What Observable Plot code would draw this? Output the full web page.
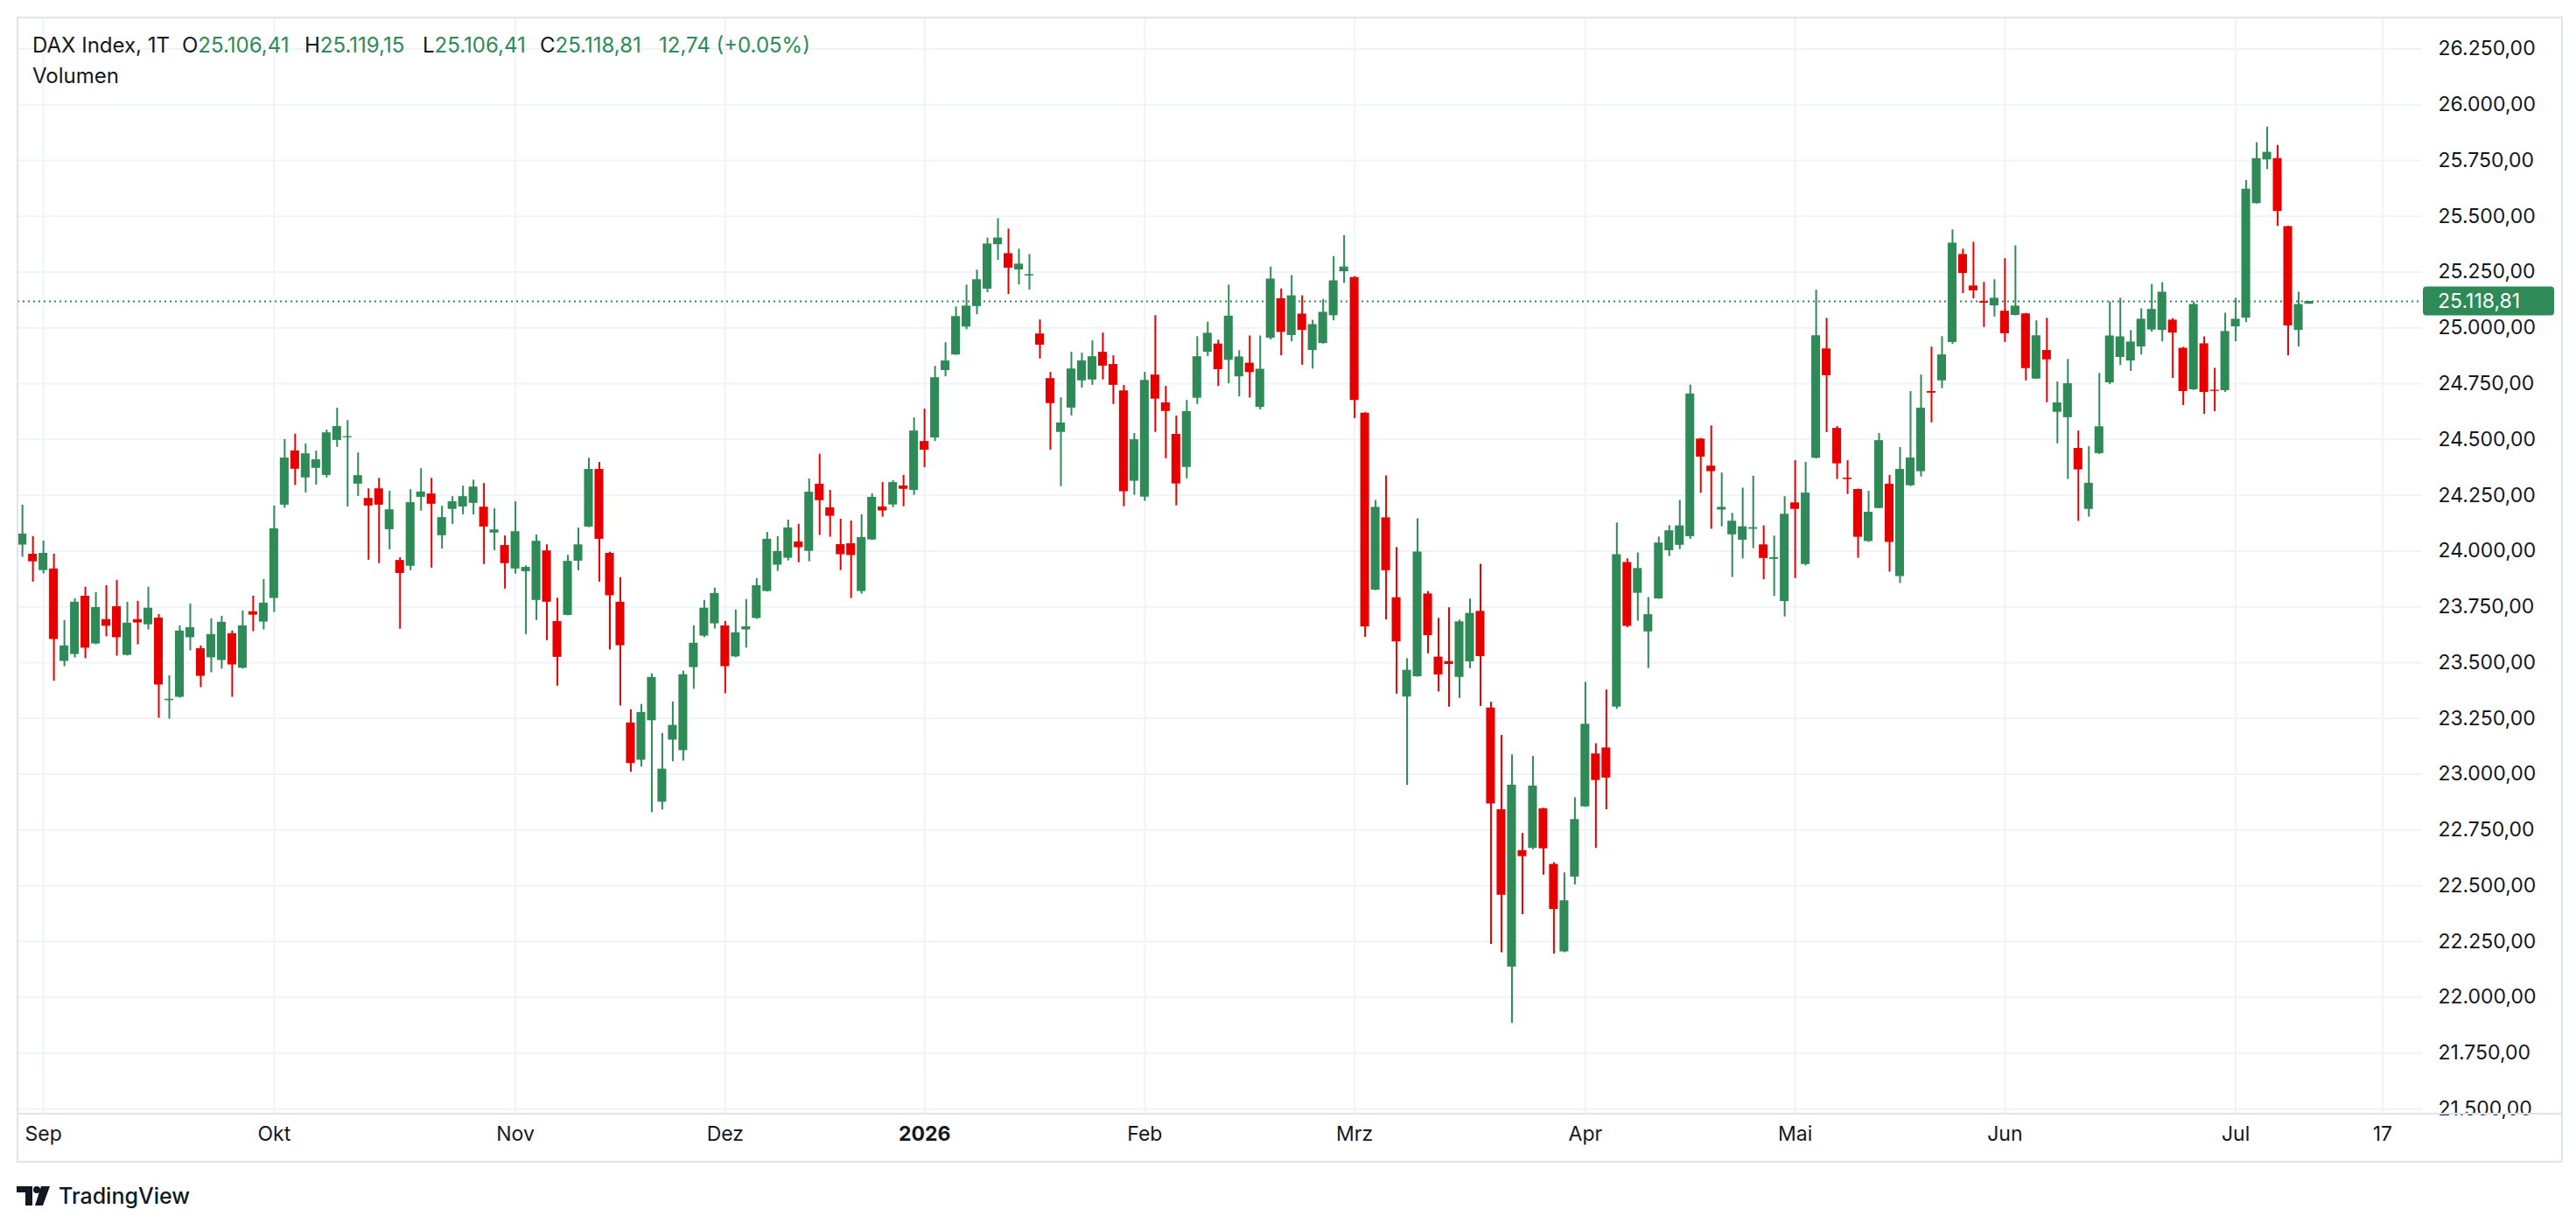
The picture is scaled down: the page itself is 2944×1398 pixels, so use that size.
<!DOCTYPE html>
<html><head><meta charset="utf-8">
<script src="https://cdn.jsdelivr.net/npm/d3@7"></script>
<script src="https://cdn.jsdelivr.net/npm/@observablehq/plot@0.6"></script>
<style>
html,body{margin:0;padding:0;background:#fff;}
#chart{position:relative;width:2944px;height:1398px;overflow:hidden;}
svg text{font-family:Inter,"Noto Sans",sans-serif;}
</style></head><body><div id="chart"></div>
<script>
// DAX Index, daily candles, 28 Aug 2025 (index 0) to 10 Jul 2026 (index 218), trading-day index on x
const open = [24027,23986,23913,23920,23506,23537,23798,23584,23693,23751,
23533,23693,23670,23700,23330,23345,23612,23563,23522,23510,
23630,23475,23728,23682,23788,24206,24449,24328,24371,24339,
24496,24508,24300,24236,24279,24096,23958,23932,24241,24256,
24069,24187,24198,24214,24197,24081,24025,23920,23908,23779,
24001,23684,23712,23955,24108,24366,23990,23771,23230,23063,
23240,22875,23153,23106,23478,23619,23674,23665,23526,23647,
23698,23819,23937,23968,24041,23999,24300,24194,24029,24033,
23819,24050,24198,24207,24292,24272,24491,24507,24809,24879,
25004,25096,25174,25373,25333,25260,25233,24973,24773,24532,
24641,24763,24767,24891,24836,24718,24313,24242,24789,24664,
24523,24375,24685,24891,24928,24855,24781,24842,24644,24954,
25131,24966,25062,24899,24930,25055,25252,25226,24618,23825,
24149,23791,23346,23437,23808,23525,23505,23434,23504,23730,
23297,22841,22136,22658,22668,22845,22596,22204,22539,22854,
23091,23118,23301,23949,23811,23638,23786,24002,24026,24065,
24502,24381,24184,24073,24049,24098,24028,23963,23774,24216,
23940,24416,24906,24550,24327,24276,24043,24191,24300,23886,
24293,24356,24715,24763,24935,25329,25188,25118,25099,25075,
25056,25063,24771,24899,24622,24598,24460,24187,24437,24754,
24868,24852,24915,24991,24989,25035,24909,24723,24929,24721,
24719,25005,25044,25557,25753,25759,25454,24989,25106.41];
const high = [24206,24065,24045,23986,23689,23787,23838,23814,23845,23869,
23771,23775,23838,23716,23442,23665,23763,23575,23697,23708,
23642,23732,23798,23873,24202,24500,24524,24480,24448,24542,
24640,24585,24440,24279,24326,24268,23970,24275,24369,24326,
24201,24244,24291,24318,24303,24189,24068,24221,23934,24072,
24028,23789,23981,24103,24416,24397,23995,23881,23289,23313,
23450,23183,23324,23462,23665,23779,23834,23685,23736,23783,
23877,24084,24065,24139,24120,24323,24434,24272,24143,24135,
24163,24257,24307,24315,24339,24597,24636,24828,24934,25094,
25192,25259,25403,25490,25443,25353,25329,25036,24801,24687,
24891,24887,24942,24977,24875,24742,24527,24801,25055,24738,
24605,24675,24961,25026,24945,25192,24898,24964,24964,25273,
25175,25234,25144,25034,25128,25320,25414,25230,24620,24227,
24337,24016,23518,24145,23819,23699,23746,23691,23785,23941,
23322,23174,23087,22735,23080,22848,22604,22558,22895,23412,
23137,23378,24126,23965,23992,23792,24063,24114,24227,24744,
24505,24561,24350,24169,24282,24336,24113,24067,24244,24405,
24398,25169,25043,24558,24405,24278,24268,24527,24339,24464,
24715,24789,24914,24961,25439,25353,25384,25204,25216,25310,
25368,25065,25032,25043,24758,24859,24538,24468,24796,25117,
25133,24988,25086,25195,25203,25042,24913,25117,24960,24819,
25066,25133,25661,25830,25900,25818,25456,25160,25119.15];
const low = [23972,23861,23898,23417,23482,23521,23518,23580,23616,23529,
23530,23580,23647,23251,23247,23341,23553,23388,23455,23471,
23345,23472,23639,23647,23725,24192,24294,24261,24296,24328,
24465,24198,24245,23959,23944,24006,23650,23912,24179,23924,
24010,24120,24163,24163,23940,24002,23830,23897,23626,23689,
23599,23395,23710,23912,24105,23861,23557,23306,23009,23032,
22828,22840,23056,23059,23381,23612,23651,23361,23522,23565,
23694,23817,23909,23956,23948,23952,24070,24062,23913,23788,
23807,24048,24152,24195,24199,24250,24374,24491,24781,24877,
24992,25059,25158,25303,25150,25193,25170,24861,24452,24289,
24606,24731,24743,24767,24657,24199,24250,24223,24532,24414,
24203,24324,24657,24872,24738,24750,24691,24686,24633,24946,
24875,24938,24833,24816,24928,25032,25200,24594,23614,23823,
23692,23359,22950,23435,23540,23369,23301,23340,23473,23304,
22238,22200,21884,22371,22662,22548,22194,22200,22504,22852,
22668,22841,23291,23657,23686,23474,23784,23976,24007,24053,
24259,24098,24109,23882,23965,24011,23872,23797,23705,23877,
23934,24413,24531,24321,24254,23968,24039,24190,23906,23855,
24289,24332,24575,24728,24927,25154,25131,25002,25049,24935,
25054,24763,24769,24665,24481,24321,24133,24152,24433,24746,
24832,24805,24879,24981,24938,24774,24652,24720,24613,24625,
24711,24938,25024,25555,25710,25455,24875,24915,25106.41];
const close = [24076,23952,23990,23604,23575,23771,23565,23747,23663,23612,
23677,23678,23744,23400,23336,23642,23657,23439,23626,23681,
23490,23665,23713,23767,24100,24417,24367,24436,24409,24530,
24558,24513,24338,24202,24206,24185,23900,24217,24265,24210,
24150,24221,24244,24287,24108,24095,23944,24087,23927,24044,
23771,23524,23954,24028,24366,24053,23800,23576,23048,23277,
23434,23023,23219,23446,23587,23744,23810,23482,23634,23661,
23845,24053,23998,24104,24015,24264,24226,24156,23984,23980,
24061,24241,24180,24307,24277,24538,24452,24777,24852,25051,
25098,25216,25376,25403,25268,25286,25239,24923,24661,24574,
24816,24852,24871,24829,24743,24266,24499,24765,24681,24626,
24301,24625,24871,24976,24813,25053,24870,24800,24815,25219,
24980,25144,24989,25015,25070,25211,25273,24675,23660,24196,
23912,23593,23466,23996,23621,23445,23492,23683,23721,23527,
22867,22458,22951,22631,22947,22666,22394,22433,22797,23224,
22972,22983,23984,23663,23922,23715,24036,24091,24113,24704,
24421,24356,24196,24134,24109,24105,23967,23971,24165,24187,
24260,24965,24786,24391,24321,24062,24174,24495,24039,24366,
24417,24640,24708,24879,25380,25244,25166,25111,25133,24974,
25098,24818,24965,24857,24664,24750,24364,24304,24557,24964,
24960,24937,25039,25083,25160,24977,24715,25105,24711,24716,
24984,25039,25622,25759,25787,25522,25009,25105,25118.81];

// time axis: label text and the trading-day index where it sits
const monthLabels = ["Sep","Okt","Nov","Dez","2026","Feb","Mrz","Apr","Mai","Jun","Jul","17"];
const monthIndex  = [2,24,47,67,86,107,127,149,169,189,211,225];
const monthBold   = [false,false,false,false,true,false,false,false,false,false,false,false];
// price axis ticks
const yTicks = [21500,21750,22000,22250,22500,22750,23000,23250,23500,23750,24000,
24250,24500,24750,25000,25250,25500,25750,26000,26250];
// header legend
const legendTitle = "DAX Index, 1T";
const legendO = "25.106,41", legendH = "25.119,15", legendL = "25.106,41", legendC = "25.118,81";
const legendChange = "12,74 (+0.05%)";

const GREEN = "#2e8a57", RED = "#e60000", GRID = "#f0f3fa", INK = "#131722";
const candles = open.map((o, i) => ({i, open: o, high: high[i], low: low[i], close: close[i],
  color: close[i] >= o ? GREEN : RED}));
const ticks = monthLabels.map((t, k) => ({label: t, idx: monthIndex[k], bold: monthBold[k]}));
const de = d3.formatLocale({decimal: ",", thousands: ".", grouping: [3], currency: ["", ""]});
const fmt = de.format(",.2f");
const last = close[close.length - 1];

const W = 2944, H = 1398, mL = 20, mR = 176, mT = 20, mB = 126;
const chart = Plot.plot({
  width: W, height: H, marginLeft: mL, marginRight: mR, marginTop: mT, marginBottom: mB,
  style: {background: "#fff", fontFamily: "Inter, 'Noto Sans', sans-serif", overflow: "visible"},
  x: {type: "linear", domain: [-0.43, 228.8], axis: null},
  y: {domain: [21481, 26389], axis: null},
  color: {type: "identity"},
  marks: [
    Plot.ruleY(yTicks, {stroke: GRID, strokeWidth: 2}),
    Plot.ruleX(monthIndex, {stroke: GRID, strokeWidth: 2}),
    Plot.ruleY([last], {stroke: GREEN, strokeWidth: 2, strokeDasharray: "2,4"}),
    Plot.ruleX(candles, {x: "i", y1: "low", y2: "high", stroke: "color", strokeWidth: 2}),
    Plot.rect(candles, {x1: d => d.i - 0.42, x2: d => d.i + 0.42, y1: "open", y2: "close", fill: "color"}),
    Plot.text(yTicks, {y: d => d, text: d => fmt(d), frameAnchor: "right", textAnchor: "start",
      dx: 18, fontSize: 23, fill: INK}),
    Plot.text(ticks.filter(d => !d.bold), {x: "idx", text: "label", frameAnchor: "bottom", dy: 31,
      fontSize: 23, fill: INK}),
    Plot.text(ticks.filter(d => d.bold), {x: "idx", text: "label", frameAnchor: "bottom", dy: 31,
      fontSize: 23, fill: INK, fontWeight: "bold"})
  ]
});
document.getElementById("chart").appendChild(chart);

const svg = d3.select(chart);
const ys = chart.scale("y");
// frame and pane separator
svg.append("rect").attr("x", 20).attr("y", 20).attr("width", 2908).attr("height", 1308)
  .attr("fill", "none").attr("stroke", "#e0e3eb").attr("stroke-width", 2);
svg.append("line").attr("x1", 20).attr("x2", 2928).attr("y1", 1273).attr("y2", 1273)
  .attr("stroke", "#e0e3eb").attr("stroke-width", 2);
// last price tag
const yl = ys.apply(last);
svg.append("rect").attr("x", 2769).attr("y", yl - 16.5).attr("width", 150).attr("height", 33)
  .attr("rx", 4).attr("fill", GREEN);
svg.append("text").attr("x", 2786).attr("y", yl).attr("dy", "0.35em").attr("fill", "#fff")
  .attr("text-anchor", "start").attr("font-size", 23).text(fmt(last));
// legend
const lg = svg.append("text").attr("y", 60).attr("font-size", 24).attr("fill", INK)
  .attr("text-anchor", "start");
lg.append("tspan").attr("x", 37).text(legendTitle);
[["O", legendO, 208], ["H", legendH, 348], ["L", legendL, 483], ["C", legendC, 617]].forEach(([k, v, x]) => {
  lg.append("tspan").attr("x", x).attr("fill", INK).text(k);
  lg.append("tspan").attr("fill", GREEN).text(v);
});
lg.append("tspan").attr("x", 753).attr("fill", GREEN).text(legendChange);
svg.append("text").attr("x", 37).attr("y", 95).attr("font-size", 24).attr("fill", INK)
  .attr("text-anchor", "start").text("Volumen");
// TradingView logo
const logo = svg.append("g").attr("fill", INK);
logo.append("path").attr("d", "M19 1356 H37 V1378 H29 V1363 H19 Z");
logo.append("circle").attr("cx", 42).attr("cy", 1360).attr("r", 4);
logo.append("path").attr("d", "M47 1356 H57 L49 1378 H40 Z");
svg.append("text").attr("x", 67).attr("y", 1367).attr("dy", "0.35em").attr("font-size", 25)
  .attr("font-weight", 500).attr("text-anchor", "start").attr("fill", INK).text("TradingView");
</script></body></html>
